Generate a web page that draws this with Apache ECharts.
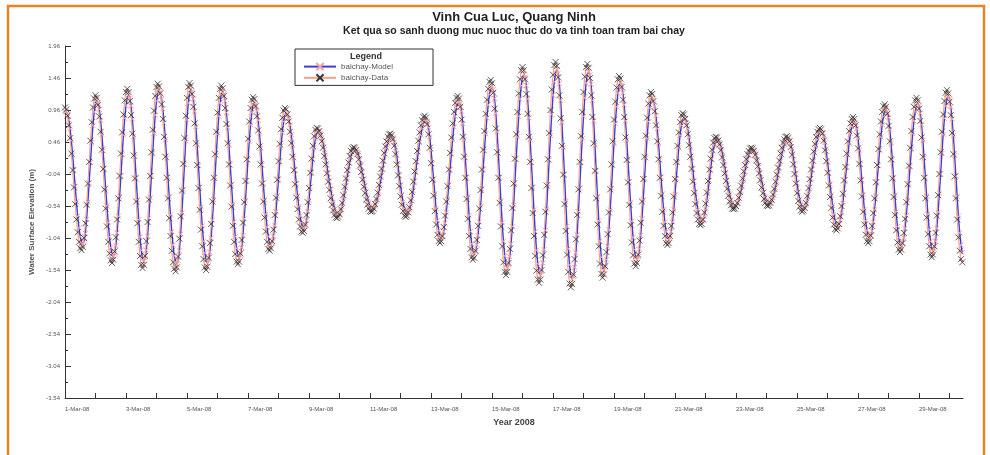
<!DOCTYPE html>
<html><head><meta charset="utf-8">
<script src="https://cdn.jsdelivr.net/npm/echarts@6/dist/echarts.min.js"></script>
<style>html,body{margin:0;padding:0;background:#fff}#c{width:990px;height:455px}</style>
</head><body><div id="c"></div>
<script>
const titleText = 'Vinh Cua Luc, Quang Ninh';
const subTitleText = 'Ket qua so sanh duong muc nuoc thuc do va tinh toan tram bai chay';
const xTickLabels = ['1-Mar-08','3-Mar-08','5-Mar-08','7-Mar-08','9-Mar-08','11-Mar-08','13-Mar-08','15-Mar-08','17-Mar-08','19-Mar-08','21-Mar-08','23-Mar-08','25-Mar-08','27-Mar-08','29-Mar-08'];
const yTickLabels = ['-3.54','-3.04','-2.54','-2.04','-1.54','-1.04','-0.54','-0.04','0.46','0.96','1.46','1.96'];
const seriesNames = ['baichay-Model','baichay-Data'];
// hourly water level (cm), starting 1-Mar-08 00:00
const dataCm = [
100,97,87,72,52,28,2,-25,-51,-75,-95,-110,-120,-123,-118,-104,-81,-52,-19,15,48,77,100,114,
119,115,104,86,62,34,4,-28,-58,-86,-110,-128,-139,-143,-138,-125,-103,-75,-42,-7,28,61,89,111,
124,129,124,110,88,59,25,-11,-47,-81,-110,-132,-146,-151,-146,-132,-109,-79,-44,-7,30,65,95,118,
132,137,133,122,105,82,54,23,-10,-42,-73,-101,-124,-142,-152,-156,-150,-133,-105,-70,-30,12,52,87,
115,132,138,134,121,101,75,44,10,-26,-60,-91,-117,-137,-150,-154,-149,-135,-112,-82,-47,-10,27,62,
92,115,129,134,130,118,99,74,44,11,-22,-55,-85,-110,-129,-141,-145,-141,-128,-107,-80,-48,-15,19,
51,78,99,112,116,113,102,86,64,39,11,-19,-47,-72,-94,-110,-121,-124,-120,-109,-91,-68,-41,-13,
16,43,66,84,95,99,97,89,78,62,44,23,2,-20,-41,-59,-75,-86,-94,-96,-93,-83,-68,-48,
-26,-2,20,40,55,65,68,67,63,56,47,37,24,11,-3,-16,-29,-42,-52,-61,-68,-72,-73,-71,
-67,-59,-49,-37,-24,-11,2,14,24,32,36,38,37,33,27,19,9,-1,-13,-24,-34,-44,-52,-58,
-62,-63,-62,-58,-51,-43,-33,-21,-8,4,17,29,39,47,54,58,59,57,50,40,27,11,-6,-23,
-39,-52,-62,-69,-71,-69,-64,-56,-45,-32,-16,0,16,32,48,61,72,80,85,87,84,74,58,37,
13,-13,-38,-62,-83,-99,-109,-112,-109,-101,-87,-69,-47,-23,3,29,53,75,93,107,115,118,114,101,
81,54,23,-10,-43,-74,-101,-121,-134,-138,-135,-124,-107,-85,-58,-29,3,34,63,90,112,129,140,143,
138,123,98,67,30,-10,-49,-86,-117,-142,-157,-162,-157,-143,-121,-92,-57,-19,20,58,93,122,144,158,
163,158,144,121,90,54,15,-26,-65,-101,-132,-155,-169,-174,-169,-154,-131,-99,-63,-22,19,60,96,128,
151,166,171,165,147,119,83,40,-5,-51,-93,-130,-157,-175,-181,-176,-161,-137,-106,-68,-28,15,55,93,
124,148,163,168,162,146,119,85,44,1,-42,-83,-117,-144,-160,-166,-161,-148,-126,-98,-64,-28,11,47,
81,109,131,144,149,145,132,112,85,53,18,-17,-52,-84,-111,-131,-144,-148,-143,-130,-108,-80,-47,-12,
23,56,84,106,119,124,121,110,94,72,47,19,-10,-38,-63,-85,-101,-112,-115,-112,-101,-85,-64,-39,
-12,15,40,61,77,88,91,89,82,72,58,41,23,4,-16,-34,-51,-65,-75,-82,-84,-82,-75,-64,
-50,-33,-15,3,20,34,45,52,54,53,48,42,33,22,10,-3,-15,-27,-38,-47,-53,-58,-59,-58,
-54,-49,-41,-32,-22,-11,0,10,19,27,32,36,37,36,32,26,17,8,-3,-14,-25,-34,-43,-49,
-53,-54,-53,-49,-44,-36,-27,-16,-5,6,17,28,37,45,50,54,55,53,47,38,26,11,-4,-19,
-34,-46,-55,-61,-63,-61,-57,-49,-38,-26,-12,3,17,31,43,54,62,66,68,66,59,48,33,16,
-2,-22,-40,-57,-72,-83,-90,-92,-89,-82,-70,-54,-35,-14,7,28,47,63,75,82,85,82,72,56,
36,12,-14,-39,-63,-83,-99,-109,-112,-109,-100,-85,-65,-42,-17,10,35,58,78,93,102,105,101,90,
71,47,19,-11,-40,-68,-92,-111,-122,-126,-122,-112,-96,-74,-48,-20,9,37,63,85,101,111,115,111,
98,79,53,23,-10,-42,-72,-98,-117,-130,-134,-130,-117,-96,-69,-37,-4,30,62,89,110,123,127,122,
109,88,60,27,-8,-42,-75,-103,-124,-137,-142
];
const modelCm = [
94,93,90,81,67,48,26,2,-23,-47,-70,-88,-102,-112,-114,-110,-97,-75,-48,-18,14,45,72,93,
106,111,107,97,80,58,32,4,-26,-54,-80,-102,-119,-129,-133,-128,-116,-96,-70,-39,-7,26,57,83,
103,115,120,115,102,82,55,23,-10,-44,-75,-102,-123,-136,-140,-136,-123,-101,-73,-41,-7,28,60,88,
110,123,127,124,113,98,76,50,21,-9,-39,-68,-94,-115,-132,-141,-145,-139,-124,-98,-65,-28,11,48,
81,107,123,128,125,113,94,70,41,9,-24,-56,-85,-109,-127,-139,-143,-139,-126,-104,-76,-44,-9,25,
58,86,107,120,125,121,110,92,69,41,10,-20,-51,-79,-102,-120,-131,-135,-131,-119,-100,-74,-45,-14,
18,47,73,92,104,108,105,95,80,60,36,10,-18,-44,-67,-87,-102,-113,-115,-112,-101,-85,-63,-38,
-12,15,40,61,78,88,92,90,83,73,58,41,21,2,-19,-38,-55,-70,-80,-87,-89,-86,-77,-63,
-45,-24,-2,19,37,51,60,63,62,59,52,44,34,22,10,-3,-15,-27,-39,-48,-57,-63,-67,-68,
-66,-62,-55,-46,-34,-22,-10,2,13,22,30,33,35,34,31,25,18,8,-1,-12,-22,-32,-41,-48,
-54,-58,-59,-58,-54,-47,-40,-31,-20,-7,4,16,27,36,44,50,54,55,53,46,37,25,10,-6,
-21,-36,-48,-58,-64,-66,-64,-60,-52,-42,-30,-15,0,15,30,45,57,67,74,79,81,78,69,54,
34,12,-12,-35,-58,-77,-92,-101,-104,-101,-94,-81,-64,-44,-21,3,27,49,70,86,100,107,110,106,
94,75,50,21,-9,-40,-69,-94,-113,-125,-128,-126,-115,-100,-79,-54,-27,3,32,59,84,104,120,130,
133,128,114,91,62,28,-9,-46,-80,-109,-132,-146,-151,-146,-133,-113,-86,-53,-18,19,54,86,113,134,
147,152,147,134,113,84,50,14,-24,-60,-94,-123,-144,-157,-162,-157,-143,-122,-92,-59,-20,18,56,89,
119,140,154,159,153,137,111,77,37,-5,-47,-86,-121,-146,-163,-168,-164,-150,-127,-99,-63,-26,14,51,
86,115,138,152,156,151,136,111,79,41,1,-39,-77,-109,-134,-149,-154,-150,-138,-117,-91,-60,-26,10,
44,75,101,122,134,139,135,123,104,79,49,17,-16,-48,-78,-103,-122,-134,-138,-133,-121,-100,-74,-44,
-11,21,52,78,99,111,115,113,102,87,67,44,18,-9,-35,-59,-79,-94,-104,-107,-104,-94,-79,-60,
-36,-11,14,37,57,72,82,85,83,76,67,54,38,21,4,-15,-32,-47,-60,-70,-76,-78,-76,-70,
-60,-46,-31,-14,3,19,32,42,48,50,49,45,39,31,20,9,-3,-14,-25,-35,-44,-49,-54,-55,
-54,-50,-46,-38,-30,-20,-10,0,9,18,25,30,33,34,33,30,24,16,7,-3,-13,-23,-32,-40,
-46,-49,-50,-49,-46,-41,-33,-25,-15,-5,6,16,26,34,42,46,50,51,49,44,35,24,10,-4,
-18,-32,-43,-51,-57,-59,-57,-53,-46,-35,-24,-11,3,16,29,40,50,58,61,63,61,55,45,31,
15,-2,-20,-37,-53,-67,-77,-84,-86,-83,-76,-65,-50,-33,-13,7,26,44,59,70,76,79,76,67,
52,33,11,-13,-36,-59,-77,-92,-101,-104,-101,-93,-79,-60,-39,-16,9,33,54,73,86,95,98,94,
84,66,44,18,-10,-37,-63,-86,-103,-113,-117,-113,-104,-89,-69,-45,-19,8,34,59,79,94,103,107,
103,91,73,49,21,-9,-39,-67,-91,-109,-121,-125,-121,-109,-89,-64,-34,-4,28,58,83,102,114,118,
113,101,82,56,25,-7,-39,-70,-96,-115,-127
];

const FONT = '"Liberation Sans", Arial, sans-serif';
const X_SYMBOL = 'path://M0,0L10,10M10,0L0,10';
const yTickValues = yTickLabels.map(Number);
const yMinorValues = yTickValues.slice(1).map((v, i) => (v + yTickValues[i]) / 2);
const dayTicks = [];
for (let d = 0; d < xTickLabels.length * 2; d++) dayTicks.push(d * 24);
const labelTicks = xTickLabels.map((_, i) => i * 48);
const toPts = arr => arr.map((v, i) => [i, v / 100]);

const chart = echarts.init(document.getElementById('c'), null, {renderer: 'canvas'});
chart.setOption({
  animation: false,
  backgroundColor: '#fff',
  color: ['#3c3cd8', '#f1a08c'],
  grid: {left: 65, right: 27, top: 46, bottom: 57, containLabel: false},
  xAxis: {
    type: 'value', min: 0, max: 706.6,
    name: 'Year 2008', nameLocation: 'middle', nameGap: 20,
    nameTextStyle: {fontFamily: FONT, fontWeight: 'bold', fontSize: 9, color: '#444'},
    axisLine: {show: true, onZero: false, lineStyle: {color: '#333', width: 1}},
    axisTick: {show: true, inside: true, length: 5, customValues: dayTicks, lineStyle: {color: '#333'}},
    axisLabel: {customValues: labelTicks, align: 'left', margin: 8, fontSize: 6, fontFamily: FONT, color: '#555',
      formatter: v => xTickLabels[Math.round(v / 48)] || ''},
    splitLine: {show: false}
  },
  yAxis: [{
    type: 'value', min: -3.54, max: 1.96,
    name: 'Water Surface Elevation (m)', nameLocation: 'middle', nameGap: 24, nameRotate: 90,
    nameTextStyle: {fontFamily: FONT, fontWeight: 'bold', fontSize: 8, color: '#555'},
    axisLine: {show: true, onZero: false, lineStyle: {color: '#333', width: 1}},
    axisTick: {show: true, inside: true, length: 6, customValues: yTickValues, lineStyle: {color: '#333'}},
    axisLabel: {customValues: yTickValues, margin: 5, fontSize: 6, fontFamily: FONT, color: '#555',
      formatter: v => v.toFixed(2)},
    splitLine: {show: false}
  }, {
    type: 'value', min: -3.54, max: 1.96, position: 'left',
    axisLine: {show: false, onZero: false},
    axisTick: {show: true, inside: true, length: 3, customValues: yMinorValues, lineStyle: {color: '#333'}},
    axisLabel: {show: false}, splitLine: {show: false}
  }],
  legend: {
    orient: 'vertical', left: 295, top: 49,
    padding: [13, 40, 3, 8], itemGap: 2, itemWidth: 32, itemHeight: 9,
    borderColor: '#333', borderWidth: 1, backgroundColor: '#fff',
    textStyle: {fontFamily: FONT, fontSize: 8, color: '#555'},
    data: seriesNames
  },
  graphic: [
    {type: 'rect', silent: true, z: 0, shape: {x: 8, y: 6, width: 976, height: 470},
      style: {fill: 'none', stroke: '#e8832a', lineWidth: 2.5}},
    {type: 'text', x: 514, y: 17, silent: true, style: {text: titleText, font: 'bold 13px ' + FONT, fill: '#222', textAlign: 'center', textVerticalAlign: 'middle'}},
    {type: 'text', x: 514, y: 31, silent: true, style: {text: subTitleText, font: 'bold 10.5px ' + FONT, fill: '#222', textAlign: 'center', textVerticalAlign: 'middle'}},
    {type: 'text', x: 366, y: 57, z: 100, silent: true, style: {text: 'Legend', font: 'bold 9px ' + FONT, fill: '#333', textAlign: 'center', textVerticalAlign: 'middle'}}
  ],
  series: [{
    name: seriesNames[0], type: 'line', data: toPts(modelCm), yAxisIndex: 0,
    symbol: X_SYMBOL, symbolSize: 5, showSymbol: true, showAllSymbol: true, z: 2,
    lineStyle: {color: '#3c3cd8', width: 1.4},
    itemStyle: {color: '#f3a0ac', borderColor: '#f3a0ac', borderWidth: 1},
    emphasis: {disabled: true}, silent: true
  }, {
    name: seriesNames[1], type: 'line', data: toPts(dataCm), yAxisIndex: 0,
    symbol: X_SYMBOL, symbolSize: 6, showSymbol: true, showAllSymbol: true, z: 3,
    lineStyle: {color: '#f1a08c', width: 1.1},
    itemStyle: {color: '#333', borderColor: '#333', borderWidth: 0.8},
    emphasis: {disabled: true}, silent: true
  }]
});
</script></body></html>
